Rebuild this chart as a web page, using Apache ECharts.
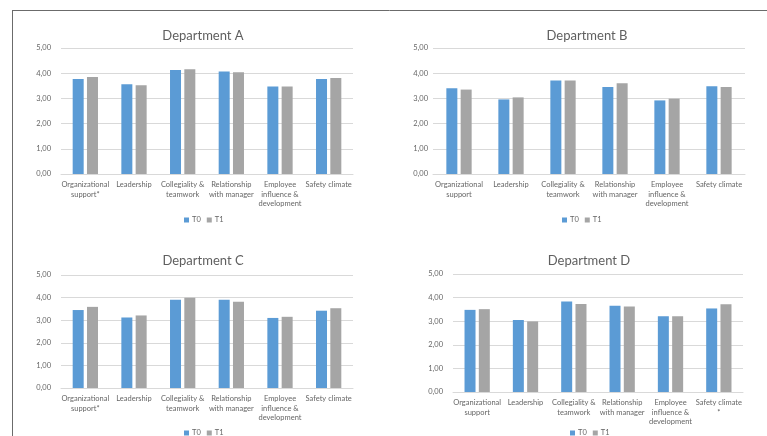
<!DOCTYPE html>
<html>
<head>
<meta charset="utf-8">
<script src="https://cdn.jsdelivr.net/npm/echarts@6/dist/echarts.min.js"></script>
<style>
  html, body { margin: 0; padding: 0; background: #fff; }
  #chart { width: 767px; height: 436px; }
</style>
</head>
<body>
<div id="chart"></div>
<script>
// ---- data ----
const catsA = ['Organizational\nsupport*', 'Leadership', 'Collegiality &\nteamwork', 'Relationship\nwith manager', 'Employee\ninfluence &\ndevelopment', 'Safety climate'];
const catsB = ['Organizational\nsupport', 'Leadership', 'Collegiality &\nteamwork', 'Relationship\nwith manager', 'Employee\ninfluence &\ndevelopment', 'Safety climate'];
const catsC = ['Organizational\nsupport*', 'Leadership', 'Collegiality &\nteamwork', 'Relationship\nwith manager', 'Employee\ninfluence &\ndevelopment', 'Safety climate'];
const catsD = ['Organizational\nsupport', 'Leadership', 'Collegiality &\nteamwork', 'Relationship\nwith manager', 'Employee\ninfluence &\ndevelopment', 'Safety climate\n*'];

const titles = ['Department A', 'Department B', 'Department C', 'Department D'];
const seriesNames = ['T0', 'T1'];

const aT0 = [3.77, 3.56, 4.13, 4.07, 3.47, 3.77];
const aT1 = [3.85, 3.52, 4.16, 4.04, 3.47, 3.81];
const bT0 = [3.40, 2.96, 3.71, 3.45, 2.92, 3.48];
const bT1 = [3.35, 3.04, 3.71, 3.60, 2.99, 3.45];
const cT0 = [3.45, 3.12, 3.90, 3.90, 3.10, 3.42];
const cT1 = [3.59, 3.21, 3.99, 3.82, 3.15, 3.53];
const dT0 = [3.48, 3.05, 3.83, 3.65, 3.21, 3.54];
const dT1 = [3.51, 2.99, 3.73, 3.62, 3.21, 3.72];

const yMin = 0, yMax = 5, yStep = 1;

// ---- styling / layout ----
const FONT = 'Lato, "Open Sans", sans-serif';
const TXT = '#666666';
const TITLE_TXT = '#5f5f5f';
const GRID_LINE = '#d9d9d9';
const COLORS = ['#5B9BD5', '#A5A5A5'];

const panels = [
  { cats: catsA, t0: aT0, t1: aT1, grid: { left: 61, width: 292, top: 48, height: 126 }, titleX: 198, titleY: 24, legendX: 184, legendY: 216, yMargin: 10 },
  { cats: catsB, t0: bT0, t1: bT1, grid: { left: 433, width: 312, top: 48, height: 126 }, titleX: 582, titleY: 24, legendX: 562, legendY: 216, yMargin: 5 },
  { cats: catsC, t0: cT0, t1: cT1, grid: { left: 61, width: 292, top: 275, height: 113 }, titleX: 198, titleY: 249, legendX: 184, legendY: 429, yMargin: 10 },
  { cats: catsD, t0: dT0, t1: dT1, grid: { left: 453, width: 290, top: 274, height: 118 }, titleX: 584, titleY: 249, legendX: 570, legendY: 429, yMargin: 10 }
];

const option = {
  animation: false,
  backgroundColor: '#fff',
  textStyle: { fontFamily: FONT },
  color: COLORS,
  title: panels.map((p, i) => ({
    text: titles[i],
    left: p.titleX,
    top: p.titleY,
    textAlign: 'center',
    textStyle: { fontFamily: FONT, fontSize: 13, fontWeight: 'normal', color: TITLE_TXT }
  })),
  legend: panels.map(p => ({
    data: seriesNames,
    left: p.legendX,
    top: p.legendY,
    itemWidth: 5,
    itemHeight: 5,
    itemGap: 6,
    icon: 'rect',
    padding: 0,
    textStyle: { fontFamily: FONT, fontSize: 7.5, color: TXT, padding: [0, 0, 0, -2] },
    selectedMode: false
  })),
  grid: panels.map(p => Object.assign({ containLabel: false }, p.grid)),
  xAxis: panels.map((p, i) => ({
    type: 'category',
    gridIndex: i,
    data: p.cats,
    axisLine: { lineStyle: { color: GRID_LINE } },
    axisTick: { show: false },
    axisLabel: { interval: 0, fontFamily: FONT, fontSize: 7.5, color: TXT, lineHeight: 9.5, margin: 6 }
  })),
  yAxis: panels.map((p, i) => ({
    type: 'value',
    gridIndex: i,
    min: yMin,
    max: yMax,
    interval: yStep,
    axisLine: { show: false },
    axisTick: { show: false },
    splitLine: { lineStyle: { color: GRID_LINE } },
    axisLabel: {
      fontFamily: FONT, fontSize: 7.5, color: TXT, margin: p.yMargin,
      formatter: v => v.toFixed(2).replace('.', ',')
    }
  })),
  series: panels.flatMap((p, i) => [
    { name: seriesNames[0], type: 'bar', xAxisIndex: i, yAxisIndex: i, data: p.t0, barWidth: 11, barGap: '30%', itemStyle: { color: COLORS[0] } },
    { name: seriesNames[1], type: 'bar', xAxisIndex: i, yAxisIndex: i, data: p.t1, barWidth: 11, barGap: '30%', itemStyle: { color: COLORS[1] } }
  ]),
  graphic: [
    { type: 'line', shape: { x1: 12, y1: 10.5, x2: 767, y2: 10.5 }, style: { stroke: '#6b6b6b', lineWidth: 1 } },
    { type: 'line', shape: { x1: 12.5, y1: 10, x2: 12.5, y2: 436 }, style: { stroke: '#6b6b6b', lineWidth: 1 } }
  ]
};

const chart = echarts.init(document.getElementById('chart'), null, { renderer: 'canvas' });
chart.setOption(option);
</script>
</body>
</html>
